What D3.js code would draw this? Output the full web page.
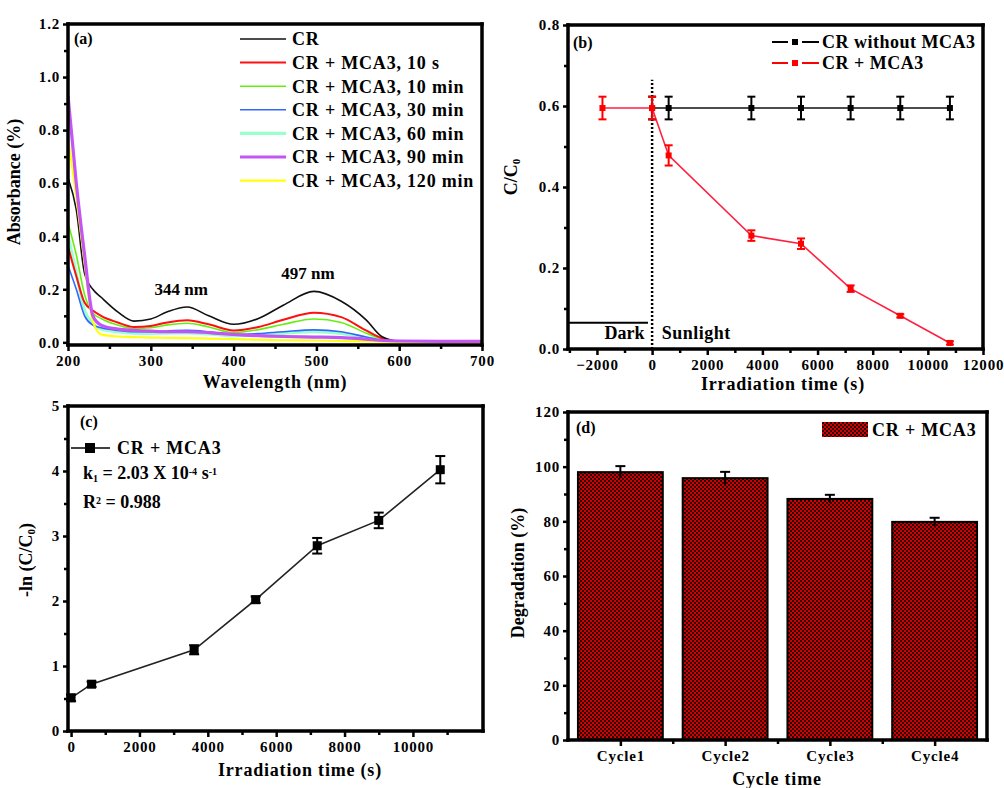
<!DOCTYPE html>
<html>
<head>
<meta charset="utf-8">
<script src="https://cdn.jsdelivr.net/npm/d3@7"></script>
<style>
  body { margin: 0; background: #fff; }
  text { font-family: "Liberation Serif", "Times New Roman", serif; font-weight: bold; fill: #000; }
</style>
</head>
<body>
<svg id="chart" width="1004" height="788"></svg>
<script>
// ---- (a) UV-vis spectra ----
const wavelengths = [200, 210, 220, 230, 240, 260, 280, 300, 320, 344, 370, 400, 430, 460, 497, 530, 560, 580, 600, 650, 700];
const absCR     = [0.62, 0.50, 0.26, 0.20, 0.17, 0.115, 0.08, 0.088, 0.115, 0.133, 0.100, 0.068, 0.090, 0.140, 0.192, 0.155, 0.085, 0.020, 0.004, 0.003, 0.003];
const abs10s    = [0.36, 0.25, 0.15, 0.12, 0.10, 0.075, 0.058, 0.062, 0.075, 0.083, 0.068, 0.045, 0.058, 0.085, 0.112, 0.095, 0.045, 0.015, 0.004, 0.003, 0.003];
const abs10min  = [0.45, 0.33, 0.18, 0.11, 0.09, 0.065, 0.052, 0.055, 0.066, 0.072, 0.058, 0.037, 0.048, 0.068, 0.088, 0.075, 0.035, 0.012, 0.004, 0.003, 0.003];
const abs30min  = [0.29, 0.20, 0.10, 0.065, 0.055, 0.045, 0.040, 0.040, 0.043, 0.045, 0.040, 0.030, 0.033, 0.040, 0.047, 0.040, 0.020, 0.008, 0.003, 0.003, 0.003];
const abs60min  = [0.40, 0.26, 0.12, 0.07, 0.05, 0.040, 0.035, 0.034, 0.035, 0.036, 0.032, 0.025, 0.028, 0.034, 0.040, 0.034, 0.018, 0.008, 0.003, 0.003, 0.003];
const abs90min  = [0.93, 0.60, 0.33, 0.10, 0.065, 0.050, 0.045, 0.042, 0.040, 0.040, 0.037, 0.030, 0.025, 0.022, 0.020, 0.018, 0.012, 0.007, 0.005, 0.004, 0.004];
const abs120min = [0.77, 0.55, 0.30, 0.08, 0.030, 0.022, 0.020, 0.018, 0.017, 0.016, 0.014, 0.012, 0.010, 0.008, 0.007, 0.005, 0.004, 0.003, 0.002, 0.000, -0.003];
const spectraNames = ['CR', 'CR + MCA3, 10 s', 'CR + MCA3, 10 min', 'CR + MCA3, 30 min', 'CR + MCA3, 60 min', 'CR + MCA3, 90 min', 'CR + MCA3, 120 min'];
const peakLabels = [{w: 344, a: 0.133, t: '344 nm'}, {w: 497, a: 0.192, t: '497 nm'}];

// ---- (b) C/C0 vs time ----
const blankTime  = [0, 600, 3600, 5400, 7200, 9000, 10800];
const blankRatio = [0.595, 0.595, 0.595, 0.595, 0.595, 0.595, 0.595];
const blankErr   = [0.028, 0.028, 0.028, 0.028, 0.028, 0.028, 0.028];
const mcaTime    = [-1800, 0, 600, 3600, 5400, 7200, 9000, 10800];
const mcaRatio   = [0.595, 0.595, 0.478, 0.280, 0.260, 0.149, 0.082, 0.015];
const mcaErr     = [0.028, 0.028, 0.025, 0.013, 0.013, 0.008, 0.004, 0.004];

// ---- (c) kinetics ----
const kinTime = [0, 600, 3600, 5400, 7200, 9000, 10800];
const kinLn   = [0.51, 0.72, 1.25, 2.02, 2.85, 3.24, 4.02];
const kinErr  = [0.05, 0.04, 0.07, 0.05, 0.12, 0.12, 0.21];

// ---- (d) recycling ----
const cycles      = ['Cycle1', 'Cycle2', 'Cycle3', 'Cycle4'];
const degradation = [98.0, 95.8, 88.2, 79.8];
const degErr      = [2.2, 2.3, 1.5, 1.5];

const svg = d3.select('#chart');
const defs = svg.append('defs');
const plotBoxes = [];   // [left, right, bottom, top], outlined last

// ticks for a panel
function drawAxes(g, x, y, o) {
  const r = o.box;
  plotBoxes.push(r);

  const xa = g.append('g').attr('transform', `translate(0,${r[2]})`);
  if (o.xMinor) xa.append('g').call(d3.axisBottom(x).tickValues(o.xMinor).tickSize(4).tickFormat(''));
  xa.append('g').call(d3.axisBottom(x).tickValues(o.xMajor).tickSize(6).tickPadding(4).tickFormat(o.xFmt || d3.format('')));

  const ya = g.append('g').attr('transform', `translate(${r[0]},0)`);
  if (o.yMinor) ya.append('g').call(d3.axisLeft(y).tickValues(o.yMinor).tickSize(4).tickFormat(''));
  ya.append('g').call(d3.axisLeft(y).tickValues(o.yMajor).tickSize(5).tickPadding(3).tickFormat(o.yFmt || d3.format('')));

  g.selectAll('.domain').remove();
  g.selectAll('.tick line').attr('stroke', '#000').attr('stroke-width', 2.5);
  g.selectAll('.tick text').style('font-size', '15px').style('letter-spacing', '0.8px').attr('fill', '#000');
}

function errorBars(g, data, x, y, color, cap) {
  const eb = g.append('g').attr('stroke', color).attr('stroke-width', 2);
  data.forEach(d => {
    eb.append('line').attr('x1', x(d.t)).attr('x2', x(d.t)).attr('y1', y(d.v - d.e)).attr('y2', y(d.v + d.e));
    eb.append('line').attr('x1', x(d.t) - cap).attr('x2', x(d.t) + cap).attr('y1', y(d.v - d.e)).attr('y2', y(d.v - d.e));
    eb.append('line').attr('x1', x(d.t) - cap).attr('x2', x(d.t) + cap).attr('y1', y(d.v + d.e)).attr('y2', y(d.v + d.e));
  });
}

function yTitle(g, cx, cy, parts) {
  const t = g.append('text')
    .attr('transform', `translate(${cx},${cy}) rotate(-90)`)
    .attr('text-anchor', 'middle')
    .style('font-size', '18px');
  parts.forEach(p => {
    const s = t.append('tspan').text(p.t);
    if (p.sub) s.style('font-size', '11px').attr('baseline-shift', '-30%');
  });
  return t;
}

// ================= panel (a) =================
(function() {
  const g = svg.append('g');
  const x = d3.scaleLinear().domain([200, 700]).range([68, 482]);
  const y = d3.scaleLinear().domain([-0.01, 1.2]).range([345, 24]);

  const colors = ['#111111', '#ff1010', '#66ee11', '#3366ff', '#99ffcc', '#c455f5', '#ffff10'];
  const widths = [1.6, 2, 1.6, 1.6, 3.2, 3.2, 2.2];
  const series = [absCR, abs10s, abs10min, abs30min, abs60min, abs90min, abs120min];

  defs.append('clipPath').attr('id', 'clipA')
    .append('rect').attr('x', 68).attr('y', 24).attr('width', 414).attr('height', 321);

  const line = d3.line()
    .x((d, i) => x(wavelengths[i]))
    .y(d => y(d))
    .curve(d3.curveMonotoneX);

  // thin ones first, thick purple / yellow on top
  const order = [4, 3, 2, 1, 0, 6, 5];
  g.append('g').attr('clip-path', 'url(#clipA)')
    .selectAll('path')
    .data(order)
    .enter().append('path')
    .attr('d', i => line(series[i]))
    .attr('fill', 'none')
    .attr('stroke', i => colors[i])
    .attr('stroke-width', i => widths[i]);

  drawAxes(g, x, y, {
    box: [68, 482, 345, 24],
    xMajor: [200, 300, 400, 500, 600, 700],
    xMinor: [250, 350, 450, 550, 650],
    yMajor: [0, 0.2, 0.4, 0.6, 0.8, 1.0, 1.2],
    yMinor: [0.1, 0.3, 0.5, 0.7, 0.9, 1.1],
    yFmt: d3.format('.1f')
  });

  g.selectAll('.peak')
    .data(peakLabels)
    .enter().append('text')
    .attr('class', 'peak')
    .attr('x', d => x(d.w) - 6)
    .attr('y', d => y(d.a) - 12)
    .attr('text-anchor', 'middle')
    .style('font-size', '17px')
    .text(d => d.t);

  g.append('text').attr('x', 74).attr('y', 44).style('font-size', '16px').text('(a)');

  const legend = g.append('g')
    .selectAll('g')
    .data(spectraNames)
    .enter().append('g')
    .attr('transform', (d, i) => `translate(240,${39 + i * 23.6})`);
  legend.append('line')
    .attr('x1', 0).attr('x2', 46)
    .attr('stroke', (d, i) => colors[i])
    .attr('stroke-width', (d, i) => widths[i]);
  legend.append('text')
    .attr('x', 52).attr('dy', '0.35em')
    .style('font-size', '18px').style('letter-spacing', '0.8px')
    .text(d => d);

  g.append('text').attr('x', 275).attr('y', 388).attr('text-anchor', 'middle')
    .style('font-size', '18px').style('letter-spacing', '0.8px').text('Wavelength (nm)');
  yTitle(g, 20, 182, [{t: 'Absorbance (%)'}]);
})();

// ================= panel (b) =================
(function() {
  const g = svg.append('g');
  const x = d3.scaleLinear().domain([-3050, 12000]).range([568, 983]);
  const y = d3.scaleLinear().domain([0, 0.8]).range([349, 25]);

  // dark / sunlight markers
  g.append('line')
    .attr('x1', x(0)).attr('x2', x(0)).attr('y1', y(0)).attr('y2', y(0.665))
    .attr('stroke', '#000').attr('stroke-width', 2.5).attr('stroke-dasharray', '2,2');
  g.append('line')
    .attr('x1', x(-3050)).attr('x2', x(-150)).attr('y1', y(0.065)).attr('y2', y(0.065))
    .attr('stroke', '#000').attr('stroke-width', 2);
  g.append('text').attr('x', x(-1000)).attr('y', 339).attr('text-anchor', 'middle').style('font-size', '18px').text('Dark');
  g.append('text').attr('x', x(350)).attr('y', 339).style('font-size', '18px').style('letter-spacing', '0.5px').text('Sunlight');

  const blank = blankTime.map((t, i) => ({t: t, v: blankRatio[i], e: blankErr[i]}));
  const mca = mcaTime.map((t, i) => ({t: t, v: mcaRatio[i], e: mcaErr[i]}));
  const line = d3.line().x(d => x(d.t)).y(d => y(d.v));

  g.append('path').attr('d', line(blank)).attr('fill', 'none').attr('stroke', '#111').attr('stroke-width', 1.6);
  errorBars(g, blank, x, y, '#000', 4);
  g.append('g').selectAll('rect').data(blank).enter().append('rect')
    .attr('x', d => x(d.t) - 3).attr('y', d => y(d.v) - 3).attr('width', 6).attr('height', 6).attr('fill', '#000');

  g.append('path').attr('d', line(mca)).attr('fill', 'none').attr('stroke', '#ff2040').attr('stroke-width', 1.6);
  errorBars(g, mca, x, y, '#ff0000', 4);
  g.append('g').selectAll('rect').data(mca).enter().append('rect')
    .attr('x', d => x(d.t) - 3).attr('y', d => y(d.v) - 3).attr('width', 6).attr('height', 6).attr('fill', '#ff0000');

  drawAxes(g, x, y, {
    box: [568, 983, 349, 25],
    xMajor: [-2000, 0, 2000, 4000, 6000, 8000, 10000, 12000],
    xMinor: [-3000, -1000, 1000, 3000, 5000, 7000, 9000, 11000],
    yMajor: [0, 0.2, 0.4, 0.6, 0.8],
    yMinor: [0.1, 0.3, 0.5, 0.7],
    yFmt: d3.format('.1f')
  });

  g.append('text').attr('x', 573).attr('y', 48).style('font-size', '16px').text('(b)');

  const leg = [{name: 'CR without MCA3', color: '#000', y: 42}, {name: 'CR + MCA3', color: '#ff0000', y: 63}];
  const lg = g.append('g').selectAll('g').data(leg).enter().append('g')
    .attr('transform', d => `translate(772,${d.y})`);
  lg.append('line').attr('x1', 0).attr('x2', 16).attr('stroke', d => d.color).attr('stroke-width', 2);
  lg.append('line').attr('x1', 30).attr('x2', 47).attr('stroke', d => d.color).attr('stroke-width', 2);
  lg.append('rect').attr('x', 20).attr('y', -3).attr('width', 6).attr('height', 6).attr('fill', d => d.color);
  lg.append('text').attr('x', 50).attr('dy', '0.35em').style('font-size', '18px').style('letter-spacing', '0.5px').text(d => d.name);

  g.append('text').attr('x', 783).attr('y', 390).attr('text-anchor', 'middle')
    .style('font-size', '18px').style('letter-spacing', '0.8px').text('Irradiation time (s)');
  yTitle(g, 517, 177, [{t: 'C/C'}, {t: '0', sub: true}]);
})();

// ================= panel (c) =================
(function() {
  const g = svg.append('g');
  const x = d3.scaleLinear().domain([-90, 12050]).range([68, 483]);
  const y = d3.scaleLinear().domain([0, 5]).range([731, 406]);

  const pts = kinTime.map((t, i) => ({t: t, v: kinLn[i], e: kinErr[i]}));
  g.append('path')
    .attr('d', d3.line().x(d => x(d.t)).y(d => y(d.v))(pts))
    .attr('fill', 'none').attr('stroke', '#222').attr('stroke-width', 1.6);
  errorBars(g, pts, x, y, '#000', 5);
  g.append('g').selectAll('rect').data(pts).enter().append('rect')
    .attr('x', d => x(d.t) - 4.5).attr('y', d => y(d.v) - 4.5).attr('width', 9).attr('height', 9).attr('fill', '#000');

  drawAxes(g, x, y, {
    box: [68, 483, 731, 406],
    xMajor: [0, 2000, 4000, 6000, 8000, 10000],
    xMinor: [1000, 3000, 5000, 7000, 9000, 11000],
    yMajor: [0, 1, 2, 3, 4, 5],
    yMinor: [0.5, 1.5, 2.5, 3.5, 4.5]
  });

  g.append('text').attr('x', 80).attr('y', 427).style('font-size', '16px').text('(c)');

  // legend + fit result
  g.append('line').attr('x1', 71).attr('x2', 110).attr('y1', 448).attr('y2', 448).attr('stroke', '#000').attr('stroke-width', 1.6);
  g.append('rect').attr('x', 85).attr('y', 443).attr('width', 10).attr('height', 10).attr('fill', '#000');
  g.append('text').attr('x', 117).attr('y', 448).attr('dy', '0.35em').style('font-size', '18px').style('letter-spacing', '0.8px').text('CR + MCA3');

  const k = g.append('text').attr('x', 83).attr('y', 479).style('font-size', '18px');
  k.append('tspan').text('k');
  k.append('tspan').attr('baseline-shift', '-30%').style('font-size', '10px').text('1');
  k.append('tspan').text(' = 2.03 X 10');
  k.append('tspan').attr('baseline-shift', '45%').style('font-size', '10px').text('-4');
  k.append('tspan').text(' s');
  k.append('tspan').attr('baseline-shift', '45%').style('font-size', '10px').text('-1');

  const rr = g.append('text').attr('x', 83).attr('y', 508).style('font-size', '18px');
  rr.append('tspan').text('R');
  rr.append('tspan').attr('baseline-shift', '45%').style('font-size', '10px').text('2');
  rr.append('tspan').text(' = 0.988');

  g.append('text').attr('x', 300).attr('y', 776).attr('text-anchor', 'middle')
    .style('font-size', '18px').style('letter-spacing', '0.8px').text('Irradiation time (s)');
  yTitle(g, 32, 560, [{t: '-ln (C/C'}, {t: '0', sub: true}, {t: ')'}]);
})();

// ================= panel (d) =================
(function() {
  const g = svg.append('g');
  const x = d3.scaleBand().domain(cycles).range([568, 987]).paddingInner(0.19).paddingOuter(0.095);
  const y = d3.scaleLinear().domain([0, 120]).range([740, 412]);

  // red/black checker fill
  const pat = defs.append('pattern').attr('id', 'checker')
    .attr('patternUnits', 'userSpaceOnUse').attr('width', 4).attr('height', 4);
  pat.append('rect').attr('width', 4).attr('height', 4).attr('fill', '#d40000');
  pat.append('rect').attr('width', 2).attr('height', 2).attr('fill', '#2a0000');
  pat.append('rect').attr('x', 2).attr('y', 2).attr('width', 2).attr('height', 2).attr('fill', '#2a0000');

  g.append('g').selectAll('rect')
    .data(cycles)
    .enter().append('rect')
    .attr('x', d => x(d))
    .attr('y', (d, i) => y(degradation[i]))
    .attr('width', x.bandwidth())
    .attr('height', (d, i) => y(0) - y(degradation[i]))
    .attr('fill', 'url(#checker)')
    .attr('stroke', '#000').attr('stroke-width', 2);

  const eb = g.append('g').attr('stroke', '#000').attr('stroke-width', 2);
  cycles.forEach((c, i) => {
    const cx = x(c) + x.bandwidth() / 2;
    eb.append('line').attr('x1', cx).attr('x2', cx).attr('y1', y(degradation[i] - degErr[i])).attr('y2', y(degradation[i] + degErr[i]));
    eb.append('line').attr('x1', cx - 5).attr('x2', cx + 5).attr('y1', y(degradation[i] + degErr[i])).attr('y2', y(degradation[i] + degErr[i]));
  });

  // ticks at bar centres and between bars
  const centers = cycles.map(c => x(c) + x.bandwidth() / 2);
  const bounds = cycles.slice(1).map(c => x(c) - x.step() * 0.095);
  const xl = d3.scaleLinear().domain([568, 987]).range([568, 987]);
  drawAxes(g, xl, y, {
    box: [568, 987, 740, 412],
    xMajor: centers,
    xMinor: bounds,
    xFmt: (d, i) => cycles[i],
    yMajor: [0, 20, 40, 60, 80, 100, 120],
    yMinor: [10, 30, 50, 70, 90, 110]
  });

  g.append('text').attr('x', 576).attr('y', 433).style('font-size', '16px').text('(d)');
  g.append('rect').attr('x', 822).attr('y', 422).attr('width', 46).attr('height', 15)
    .attr('fill', 'url(#checker)');
  g.append('text').attr('x', 872).attr('y', 430).attr('dy', '0.35em').style('font-size', '18px').style('letter-spacing', '0.8px').text('CR + MCA3');

  g.append('text').attr('x', 777).attr('y', 785).attr('text-anchor', 'middle')
    .style('font-size', '18px').style('letter-spacing', '0.8px').text('Cycle time');
  yTitle(g, 524, 573, [{t: 'Degradation (%)'}]);
})();

// plot frames on top of everything, as four filled bars per box
const fw = 3.5;
const fg = svg.append('g').attr('fill', '#000');
plotBoxes.forEach(r => {
  const [l, rt, b, t] = r;
  fg.append('rect').attr('x', l - fw / 2).attr('y', t - fw / 2).attr('width', rt - l + fw).attr('height', fw);
  fg.append('rect').attr('x', l - fw / 2).attr('y', b - fw / 2).attr('width', rt - l + fw).attr('height', fw);
  fg.append('rect').attr('x', l - fw / 2).attr('y', t - fw / 2).attr('width', fw).attr('height', b - t + fw);
  fg.append('rect').attr('x', rt - fw / 2).attr('y', t - fw / 2).attr('width', fw).attr('height', b - t + fw);
});
</script>
</body>
</html>
